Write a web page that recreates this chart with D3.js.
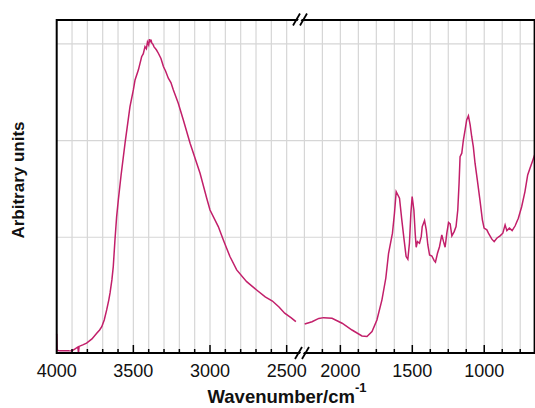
<!DOCTYPE html>
<html>
<head>
<meta charset="utf-8">
<script src="https://cdn.jsdelivr.net/npm/d3@7"></script>
<style>
body { margin: 0; background: #fff; }
svg { font-family: "Liberation Sans", Arial, sans-serif; }
</style>
</head>
<body>
<svg id="svg" width="535" height="408"></svg>
<script>
// wavenumbers (cm-1) and absorbance, high-wavenumber segment
var hiWave = [4000, 3997, 3980, 3950, 3920, 3900, 3880, 3862, 3858, 3854, 3830, 3805, 3770, 3739, 3720, 3706, 3690, 3674, 3660, 3652, 3640, 3631, 3620, 3609, 3598, 3580, 3554, 3522, 3500, 3489, 3467, 3446, 3435, 3424, 3415, 3408, 3400, 3395, 3390, 3385, 3380, 3372, 3365, 3350, 3337, 3320, 3304, 3290, 3272, 3255, 3239, 3207, 3174, 3130, 3065, 3022, 3000, 2946, 2913, 2870, 2826, 2761, 2696, 2640, 2593, 2550, 2513, 2470, 2440];
var hiAbs = [0.50, 0.415, 0.412, 0.412, 0.412, 0.413, 0.422, 0.432, 0.40, 0.435, 0.443, 0.452, 0.474, 0.503, 0.520, 0.537, 0.572, 0.624, 0.676, 0.712, 0.779, 0.848, 0.986, 1.107, 1.193, 1.322, 1.488, 1.676, 1.762, 1.814, 1.866, 1.934, 1.95, 1.986, 1.975, 2.01, 1.995, 2.025, 2.008, 2.022, 2.005, 1.998, 1.985, 1.97, 1.952, 1.925, 1.883, 1.86, 1.823, 1.80, 1.762, 1.693, 1.607, 1.486, 1.331, 1.203, 1.141, 1.055, 0.986, 0.900, 0.831, 0.770, 0.727, 0.691, 0.670, 0.639, 0.607, 0.583, 0.563];

// low-wavenumber segment
var loWave = [2248, 2197, 2150, 2116, 2058, 1988, 1919, 1850, 1815, 1780, 1746, 1711, 1684, 1665, 1638, 1624, 1612, 1589, 1573, 1557, 1543, 1531, 1520, 1510, 1501, 1489, 1480, 1473, 1464, 1450, 1438, 1431, 1415, 1403, 1392, 1380, 1364, 1348, 1339, 1325, 1311, 1295, 1283, 1272, 1260, 1248, 1237, 1225, 1209, 1196, 1184, 1175, 1168, 1156, 1145, 1133, 1122, 1110, 1098, 1087, 1076, 1064, 1048, 1030, 1013, 1001, 982, 971, 947, 931, 913, 890, 871, 855, 843, 825, 806, 786, 763, 740, 717, 698, 682, 666, 650];
var loAbs = [0.551, 0.563, 0.580, 0.584, 0.581, 0.555, 0.520, 0.489, 0.486, 0.512, 0.572, 0.676, 0.789, 0.917, 1.021, 1.124, 1.236, 1.202, 1.090, 0.986, 0.900, 0.886, 0.969, 1.124, 1.210, 1.141, 1.021, 0.948, 0.977, 0.969, 1.003, 1.055, 1.086, 1.038, 0.960, 0.908, 0.903, 0.879, 0.871, 0.917, 0.951, 1.012, 0.977, 0.948, 1.021, 1.076, 1.069, 1.007, 1.029, 1.055, 1.141, 1.279, 1.417, 1.435, 1.503, 1.555, 1.607, 1.628, 1.581, 1.520, 1.469, 1.383, 1.296, 1.193, 1.090, 1.047, 1.038, 1.021, 0.990, 0.977, 0.995, 1.007, 1.021, 1.064, 1.034, 1.047, 1.034, 1.058, 1.098, 1.158, 1.236, 1.322, 1.357, 1.391, 1.426];

var hiLabels = [4000, 3500, 3000, 2500];
var loLabels = [2000, 1500, 1000];
var gridY = [1.0, 1.5, 2.0];

var svg = d3.select("#svg");
var pTop = 20, pBottom = 353, pLeft = 56.7, pRight = 534.6;

var xHi = d3.scaleLinear().domain([4000, 2400]).range([pLeft, 302]);
var xLo = d3.scaleLinear().domain([2250, 650]).range([304.4, pRight]);
var y = d3.scaleLinear().domain([0.401, 2.124]).range([pBottom, pTop]);

// grid
var gx = svg.append("g").style("stroke", "#d6d6d6").style("stroke-width", 1.2);
d3.range(3900, 2499, -100).forEach(function(w){
 gx.append("line").attr("x1", xHi(w)).attr("x2", xHi(w)).attr("y1", pTop).attr("y2", pBottom);
});
d3.range(2250, 700, -125).forEach(function(w){
 gx.append("line").attr("x1", xLo(w)).attr("x2", xLo(w)).attr("y1", pTop).attr("y2", pBottom);
});
gridY.forEach(function(v){
 gx.append("line").attr("x1", pLeft).attr("x2", pRight).attr("y1", y(v)).attr("y2", y(v));
});

// spectrum
var color = "#c21f6a";
var hiData = hiWave.map(function(w, i){ return [w, hiAbs[i]]; });
var loData = loWave.map(function(w, i){ return [w, loAbs[i]]; });
svg.append("path").datum(hiData)
 .attr("d", d3.line().x(function(d){ return xHi(d[0]); }).y(function(d){ return y(d[1]); }))
 .style("fill", "none").style("stroke", color).style("stroke-width", 1.5);
svg.append("path").datum(loData)
 .attr("d", d3.line().x(function(d){ return xLo(d[0]); }).y(function(d){ return y(d[1]); }))
 .style("fill", "none").style("stroke", color).style("stroke-width", 1.5);

// ticks (inward)
var tk = svg.append("g").style("stroke", "#000").style("stroke-width", 1.5);
d3.range(3900, 2499, -100).forEach(function(w){
 var len = (w % 500 === 0) ? 8 : 4;
 tk.append("line").attr("x1", xHi(w)).attr("x2", xHi(w)).attr("y1", pBottom).attr("y2", pBottom - len);
});
d3.range(2125, 700, -125).forEach(function(w){
 var len = (w % 500 === 0) ? 8 : 4;
 tk.append("line").attr("x1", xLo(w)).attr("x2", xLo(w)).attr("y1", pBottom).attr("y2", pBottom - len);
});

// frame
svg.append("rect")
 .attr("x", pLeft).attr("y", pTop)
 .attr("width", pRight - pLeft).attr("height", pBottom - pTop)
 .style("fill", "none").style("stroke", "#000").style("stroke-width", 2);

// axis breaks
function brk(cx, cy){
 svg.append("polygon")
  .attr("points", [[cx-4, cy+4], [cx+1, cy-4], [cx+4, cy-4], [cx-1, cy+4]].join(" "))
  .style("fill", "#fff");
 [-3.5, 3.5].forEach(function(o){
  svg.append("line")
   .attr("x1", cx + o - 3.5).attr("y1", cy + 6)
   .attr("x2", cx + o + 3.5).attr("y2", cy - 6)
   .style("stroke", "#000").style("stroke-width", 1.8);
 });
}
brk(300, pTop - 0.5);
brk(302, pBottom);

// tick labels
var lab = svg.append("g").style("font-size", "18px").style("fill", "#111").attr("text-anchor", "middle");
hiLabels.forEach(function(w){
 lab.append("text").attr("x", xHi(w)).attr("y", 377).text(w);
});
loLabels.forEach(function(w){
 lab.append("text").attr("x", xLo(w)).attr("y", 377).text(w);
});

// axis titles
var xt = svg.append("text")
 .attr("x", 287).attr("y", 403)
 .attr("text-anchor", "middle")
 .style("font-size", "18.5px").style("font-weight", "bold").style("fill", "#111");
xt.append("tspan").text("Wavenumber/cm");
xt.append("tspan").attr("dy", -11).style("font-size", "13px").text("-1");

svg.append("text")
 .attr("transform", "translate(24,180) rotate(-90)")
 .attr("text-anchor", "middle")
 .style("font-size", "17px").style("font-weight", "bold").style("fill", "#111")
 .text("Arbitrary units");
</script>
</body>
</html>
